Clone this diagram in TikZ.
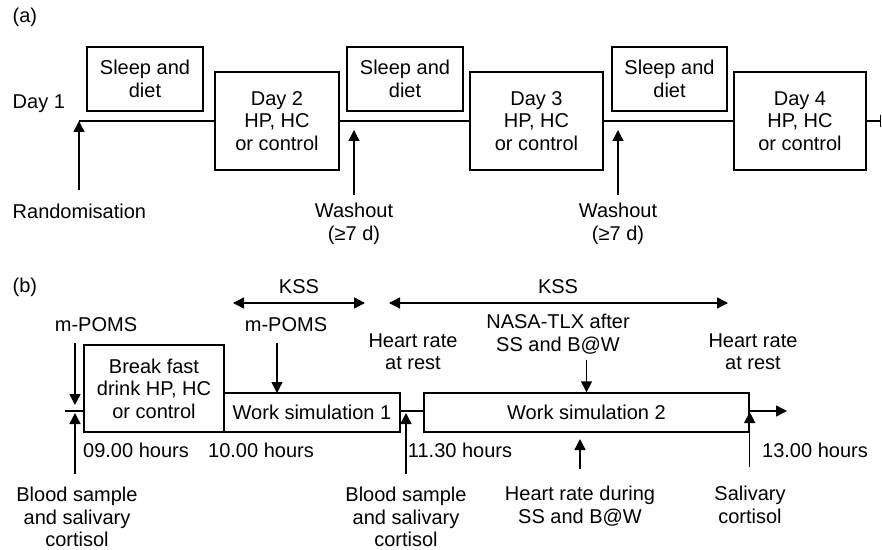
\documentclass[tikz,border=0pt]{standalone}
\usepackage{fontspec}
\setmainfont{Liberation Sans}
\usetikzlibrary{arrows.meta}
\tikzset{box/.style={draw, align=center, inner sep=0pt}}
\tikzset{lbl/.style={align=center, inner sep=0pt}}
\tikzset{arr/.style={-{Triangle[length=5.5pt,width=5.5pt]}}}
\tikzset{dbl/.style={{Triangle[length=5.5pt,width=5.5pt]}-{Triangle[length=5.5pt,width=5.5pt]}}}

\begin{document}
\begin{tikzpicture}[x=0.5pt, y=-0.5pt, line width=0.7pt, every node/.style={font=\fontsize{10}{11.2}\selectfont}]
            \useasboundingbox (0,0) rectangle (882,550);
            % (a)
            \node[lbl, anchor=west] (taga) at (12,17) {(a)};
            \node[lbl, anchor=west] (day1) at (12,104) {Day 1};
            \node[box, minimum width=58pt, minimum height=32pt] (sleep1) at (145,79) {Sleep and\\diet};
            \node[box, minimum width=62pt, minimum height=49pt] (day2) at (277,121) {Day 2\\HP, HC\\or control};
            \node[box, minimum width=58pt, minimum height=32pt] (sleep2) at (405,79) {Sleep and\\diet};
            \node[box, minimum width=66.5pt, minimum height=49pt] (day3) at (536.5,121) {Day 3\\HP, HC\\or control};
            \node[box, minimum width=57.5pt, minimum height=32pt] (sleep3) at (669.5,79) {Sleep and\\diet};
            \node[box, minimum width=66pt, minimum height=49pt] (day4) at (800,121) {Day 4\\HP, HC\\or control};
            \coordinate (start) at (79,121);
            \coordinate (stop) at (881,121);
            \draw (start) -- (day2.west);
            \draw (day2.east) -- (day3.west);
            \draw (day3.east) -- (day4.west);
            \draw [-{Bar[width=6pt]}] (day4.east) -- (stop);
            \node[lbl, anchor=west] (rand) at (12,211) {Randomisation};
            \draw [arr, shorten <=6.3pt] (rand.north -| start) -- (start);
            \node[lbl] (wash1) at (354,224) {Washout\\(≥7 d)};
            \coordinate (w1) at (354,130);
            \draw [arr, shorten <=4pt] (wash1.north) -- (w1);
            \node[lbl] (wash2) at (618,224) {Washout\\(≥7 d)};
            \coordinate (w2) at (618,130);
            \draw [arr, shorten <=4pt] (wash2.north) -- (w2);
            % (b)
            \node[lbl, anchor=west] (tagb) at (12,287) {(b)};
            \node[lbl] (kss1) at (299,287) {KSS};
            \coordinate (k1l) at (233,303);
            \coordinate (k1r) at (365,303);
            \draw [dbl] (k1l) -- (k1r);
            \node[lbl] (kss2) at (558,287) {KSS};
            \coordinate (k2l) at (389,303);
            \coordinate (k2r) at (728,303);
            \draw [dbl] (k2l) -- (k2r);
            \node[box, minimum width=70pt, minimum height=43.5pt] (bfast) at (154,388.5) {Break fast\\drink HP, HC\\or control};
            \node[box, minimum width=88pt, minimum height=19.5pt] (ws1) at (312,412.5) {Work simulation 1};
            \node[box, minimum width=162.5pt, minimum height=19.5pt] (ws2) at (586.5,412.5) {Work simulation 2};
            \coordinate (t0) at (65,411);
            \coordinate (tick) at (75,411);
            \coordinate (c2) at (406,411);
            \coordinate (end) at (787,411);
            \draw (t0) -- (t0 -| bfast.west);
            \draw (ws1.east |- t0) -- (ws2.west |- t0);
            \draw [arr] (ws2.east |- t0) -- (end);
            \node[lbl] (mp1) at (96,325) {m-POMS};
            \draw [arr, shorten <=5pt, shorten >=3pt] (mp1.south -| tick) -- (tick);
            \node[lbl] (mp2) at (286,325) {m-POMS};
            \coordinate (p2) at (277,393);
            \draw [arr, shorten <=5pt] (mp2.south -| p2) -- (p2);
            \node[lbl] (hr1) at (413,352) {Heart rate\\at rest};
            \node[lbl] (nasa) at (558,334) {NASA-TLX after\\SS and B@W};
            \draw [arr, shorten <=2.5pt] (nasa.south -| ws2.north) -- (ws2.north);
            \node[lbl] (hr2) at (753,352) {Heart rate\\at rest};
            \node[lbl] (t09) at (136,450) {09.00 hours};
            \node[lbl] (t10) at (261,450) {10.00 hours};
            \node[lbl] (t1130) at (460,450) {11.30 hours};
            \node[lbl] (t13) at (815,450) {13.00 hours};
            \node[lbl] (blood1) at (77,517) {Blood sample\\and salivary\\cortisol};
            \draw [arr, shorten <=6.5pt, shorten >=1pt] (blood1.north -| tick) -- (tick);
            \node[lbl] (blood2) at (406,517) {Blood sample\\and salivary\\cortisol};
            \draw [arr, shorten <=6.5pt, shorten >=1pt] (blood2.north -| c2) -- (c2);
            \node[lbl] (hrss) at (580,506) {Heart rate during\\SS and B@W};
            \coordinate (c4) at (580,439);
            \draw [arr, shorten <=8pt] (hrss.north) -- (c4);
            \node[lbl] (sal) at (750,505) {Salivary\\cortisol};
            \draw [arr, shorten <=9.5pt, shorten >=0.5pt] (sal.north -| ws2.east) -- (ws2.east |- t0);
        \end{tikzpicture}
\end{document}
